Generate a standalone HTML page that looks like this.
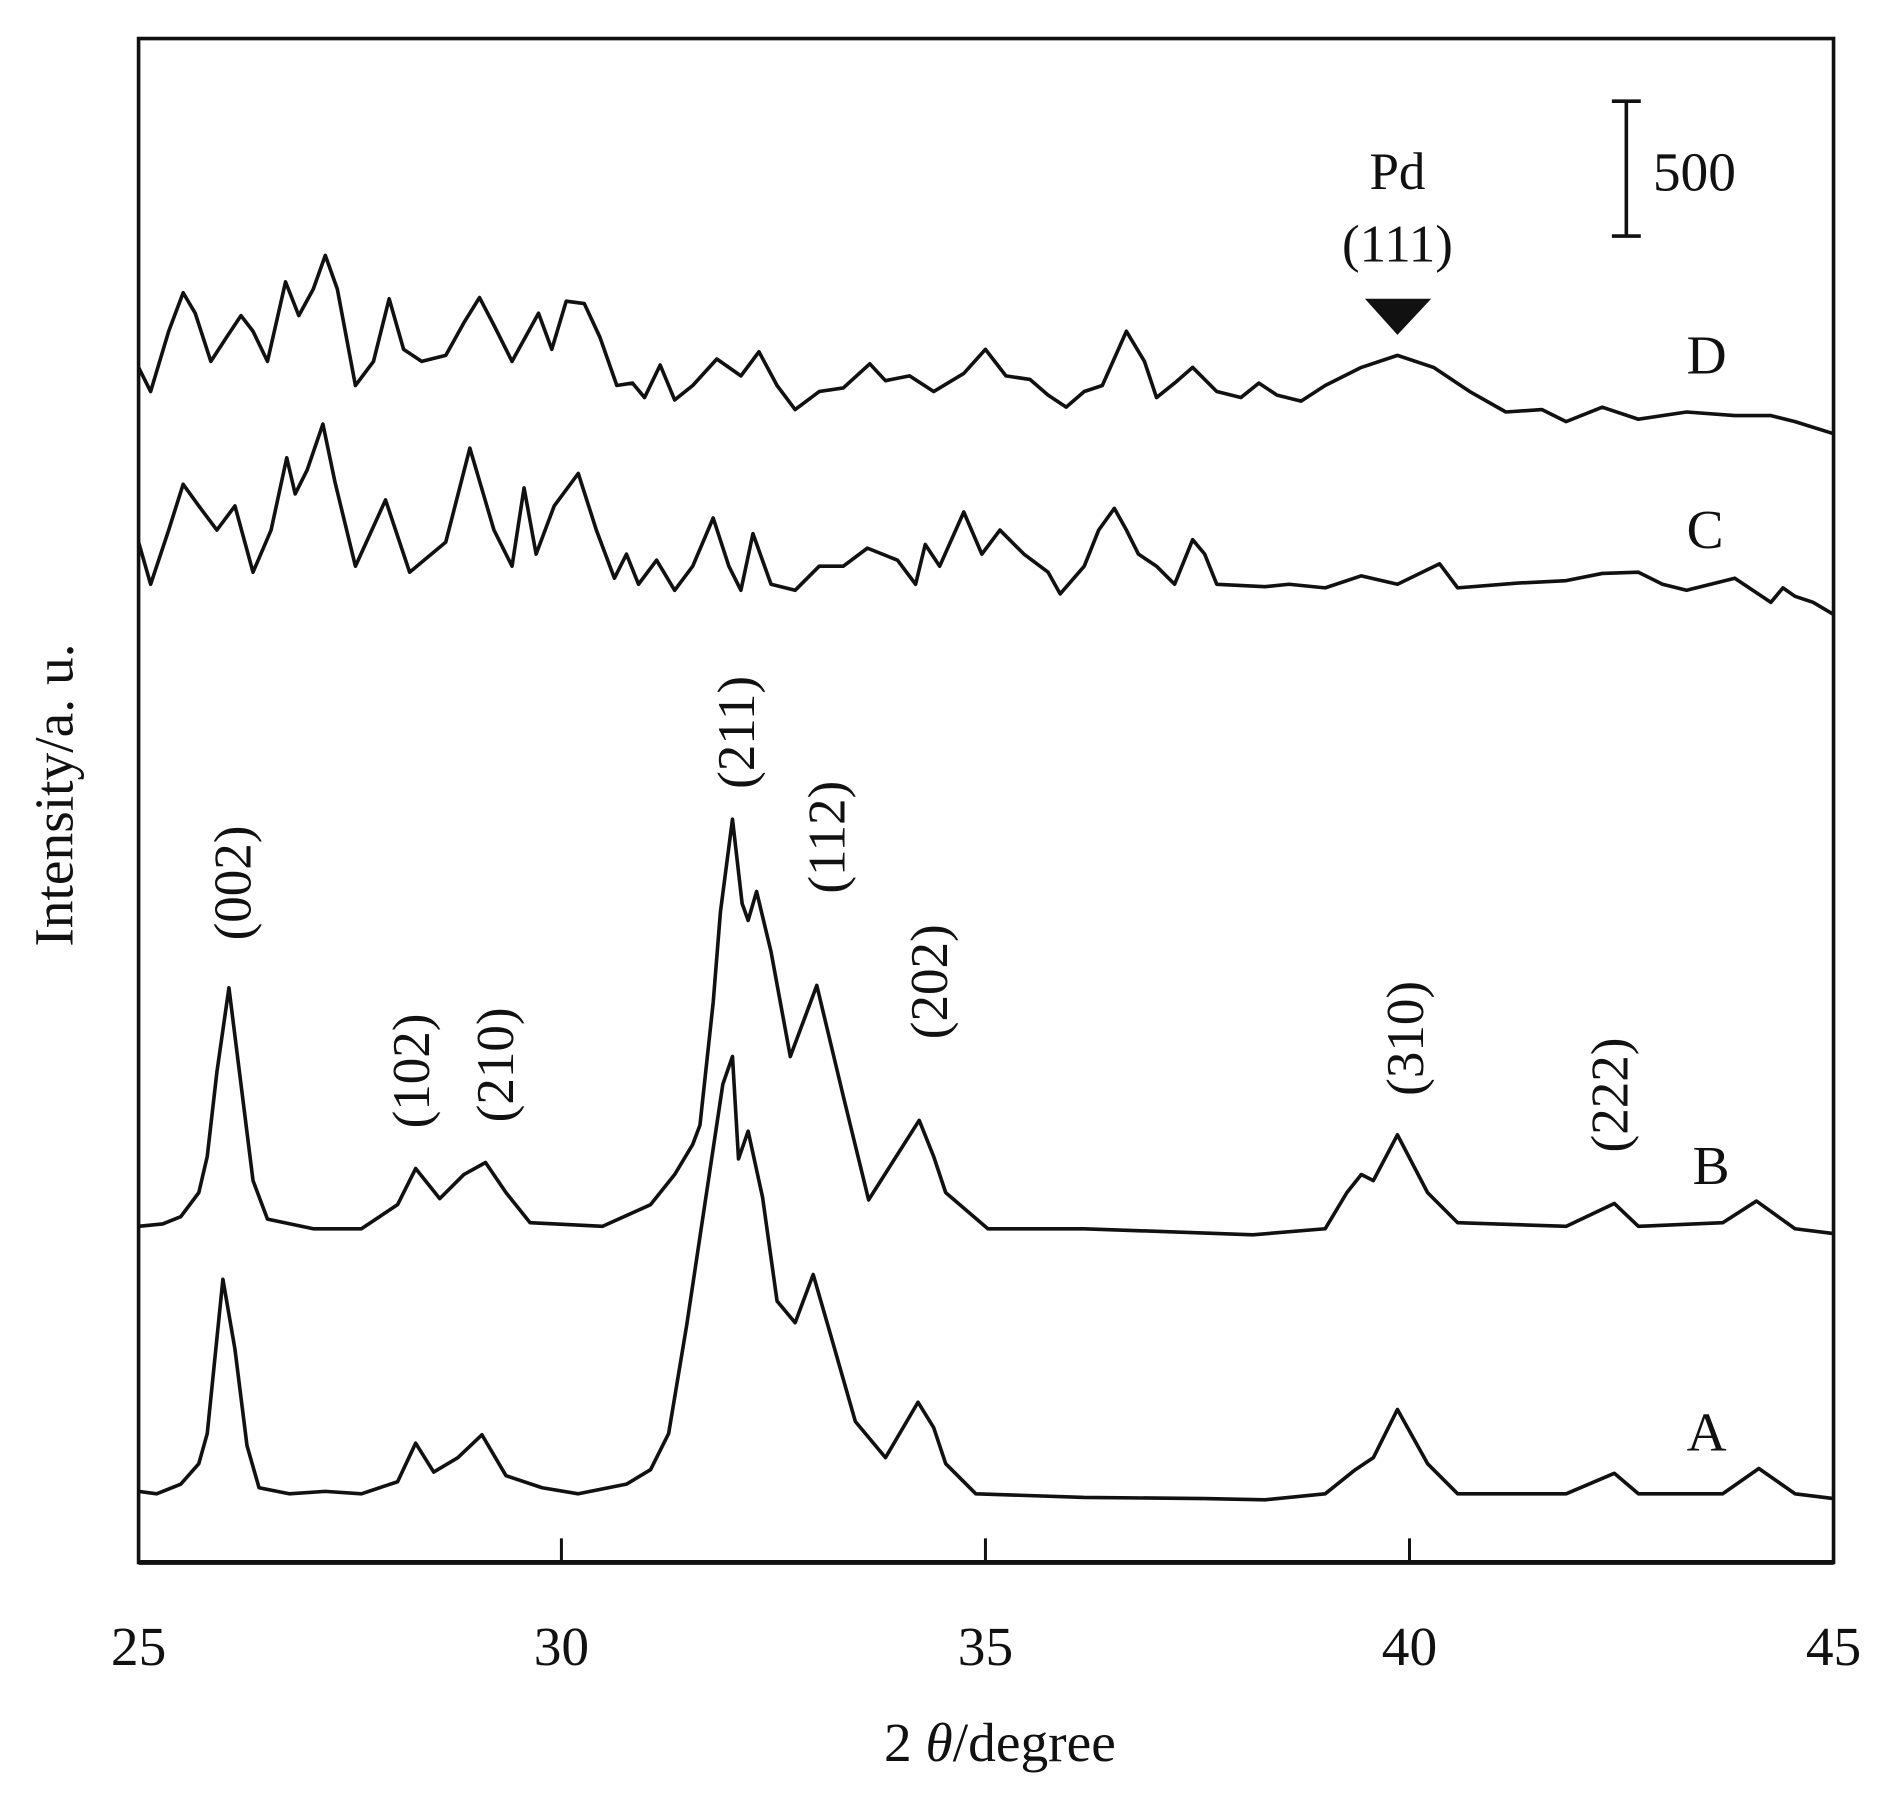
<!DOCTYPE html>
<html><head><meta charset="utf-8"><style>
html,body{margin:0;padding:0;background:#fff;}
svg{display:block;}
text{font-family:"Liberation Serif",serif;fill:#111;}
</style></head><body>
<svg width="1889" height="1807" viewBox="0 0 1568 1500" xmlns="http://www.w3.org/2000/svg">
<rect x="115" y="32" width="1407" height="1265" fill="none" stroke="#111" stroke-width="3"/>
<line x1="115" y1="1297" x2="1522" y2="1297" stroke="#111" stroke-width="4"/>
<g stroke="#111" stroke-width="2.5">
<line x1="466" y1="1297" x2="466" y2="1277"/><line x1="818" y1="1297" x2="818" y2="1277"/><line x1="1170" y1="1297" x2="1170" y2="1277"/>
</g>
<g font-size="46" text-anchor="middle">
<text x="115" y="1382">25</text><text x="466" y="1382">30</text><text x="818" y="1382">35</text><text x="1170" y="1382">40</text><text x="1522" y="1382">45</text>
<text x="830" y="1462">2 <tspan font-style="italic">θ</tspan>/degree</text>
<text transform="translate(60,660) rotate(-90)">Intensity/a. u.</text>
</g>
<g fill="none" stroke="#111" stroke-width="3" stroke-linejoin="round">
<polyline points="115,1238 130,1240 150,1232 165,1215 172,1190 185,1062 195,1120 205,1200 215,1235 240,1240 270,1238 300,1240 330,1230 345,1198 360,1222 380,1210 400,1191 420,1225 450,1235 480,1240 520,1232 540,1220 555,1190 570,1100 585,1000 600,900 608,877 613,962 621,939 633,994 645,1080 660,1098 675,1058 690,1110 710,1180 735,1210 762,1164 775,1185 785,1215 810,1240 900,1243 1000,1244 1050,1245 1100,1240 1125,1220 1140,1210 1160,1170 1185,1215 1210,1240 1300,1240 1340,1223 1360,1240 1430,1240 1460,1219 1490,1240 1522,1244"/>
<polyline points="115,1018 135,1016 150,1010 165,990 172,960 180,890 190,820 200,900 210,980 222,1012 260,1020 300,1020 330,1000 345,970 365,995 385,975 403,965 420,990 440,1015 500,1018 540,1000 560,975 575,950 581,934 592,832 598,757 608,680 616,750 621,764 628,740 640,790 656,877 678,818 700,910 721,996 763,930 775,960 785,990 820,1020 900,1020 1040,1025 1100,1020 1118,990 1130,975 1140,980 1160,942 1185,990 1210,1015 1300,1018 1340,999 1360,1018 1430,1015 1458,997 1490,1020 1522,1024"/>
<polyline points="115,450 125,485 140,440 152,402 165,420 180,440 195,420 210,475 225,440 238,380 245,410 255,390 268,352 278,400 295,470 320,415 340,475 370,450 390,372 410,440 425,470 435,405 445,460 460,420 480,393 495,440 510,480 520,460 530,485 545,465 560,490 575,470 592,430 605,470 615,490 625,443 640,485 660,490 680,470 700,470 720,455 745,465 760,485 768,452 780,470 800,425 815,460 830,440 850,460 870,475 880,493 900,470 912,440 925,422 935,440 945,460 960,470 975,485 990,448 1000,460 1010,485 1050,487 1070,485 1100,488 1130,478 1160,485 1195,468 1210,488 1260,484 1300,482 1330,476 1360,475 1380,485 1400,490 1440,480 1470,500 1480,488 1490,495 1505,500 1522,510"/>
<polyline points="115,305 125,325 140,275 152,243 162,260 175,300 188,280 200,262 210,275 222,300 237,234 248,262 260,240 270,212 280,240 295,320 310,300 323,248 335,290 350,300 370,295 385,268 398,247 410,270 425,300 447,260 458,290 470,250 485,252 498,280 512,320 525,318 535,330 548,303 560,332 575,320 595,298 615,312 630,292 645,320 660,340 680,325 700,322 722,302 735,316 755,312 775,325 800,310 818,290 835,312 855,315 870,328 885,338 900,325 915,320 935,275 950,300 960,330 975,318 990,305 1010,325 1030,330 1045,318 1060,328 1080,333 1100,320 1130,305 1160,295 1190,305 1220,325 1250,342 1280,340 1300,350 1330,338 1360,348 1400,342 1440,345 1470,345 1490,350 1522,360"/>
</g>
<g font-size="46">
<text x="1400" y="310">D</text><text x="1400" y="455">C</text><text x="1405" y="983">B</text><text x="1400" y="1204">A</text>
</g>
<g font-size="44" text-anchor="middle">
<text transform="translate(208,733) rotate(-90)">(002)</text>
<text transform="translate(356,889) rotate(-90)">(102)</text>
<text transform="translate(426,884) rotate(-90)">(210)</text>
<text transform="translate(626,608) rotate(-90)">(211)</text>
<text transform="translate(701,695) rotate(-90)">(112)</text>
<text transform="translate(786,815) rotate(-90)">(202)</text>
<text transform="translate(1181,862) rotate(-90)">(310)</text>
<text transform="translate(1351,909) rotate(-90)">(222)</text>
<text x="1160" y="157">Pd</text>
<text x="1160" y="217">(111)</text>
</g>
<polygon points="1133,248 1188,248 1160,278" fill="#111"/>
<g stroke="#111" stroke-width="3">
<line x1="1350" y1="84" x2="1350" y2="196"/><line x1="1338" y1="84" x2="1362" y2="84"/><line x1="1338" y1="196" x2="1362" y2="196"/>
</g>
<text x="1372" y="158" font-size="46">500</text>
</svg>
</body></html>
